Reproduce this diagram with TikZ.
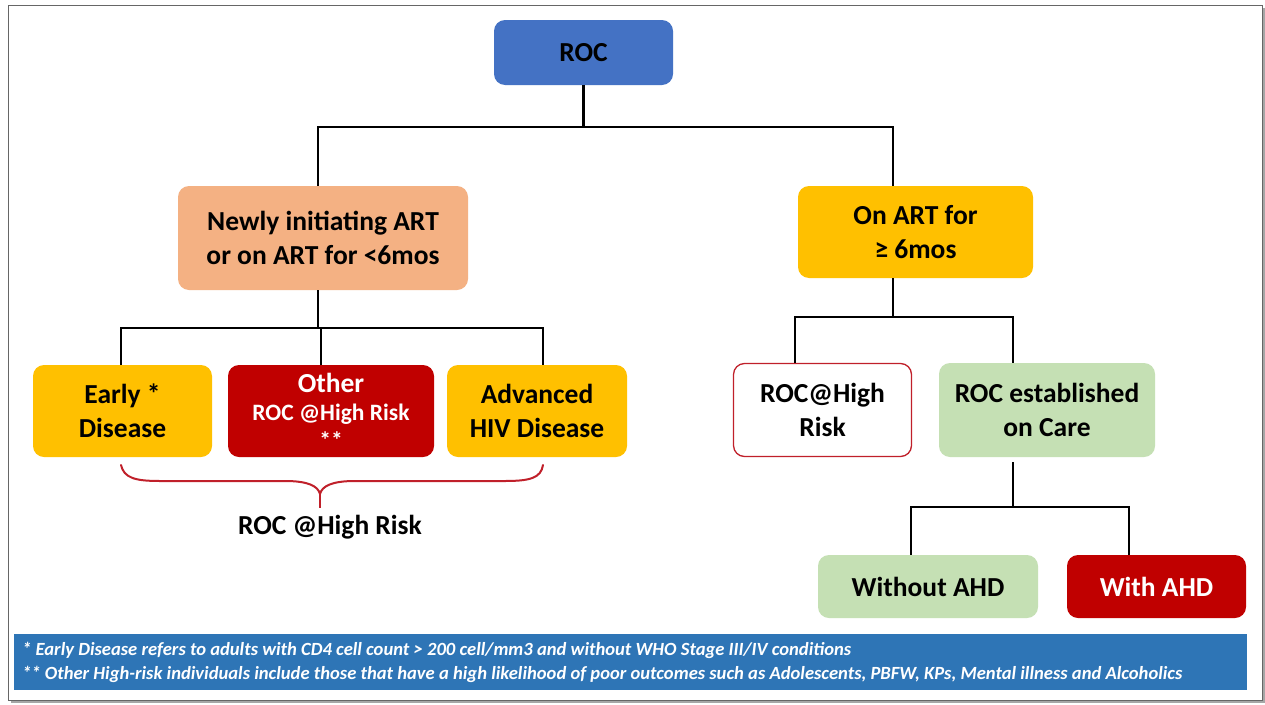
\documentclass[tikz,border=0pt]{standalone}
\usepackage{fontspec}
\setmainfont{Carlito}
\begin{document}
\definecolor{rocblue}{HTML}{4472C4}
\definecolor{noteblue}{HTML}{2E75B6}
\definecolor{peach}{HTML}{F4B183}
\definecolor{gold}{HTML}{FFC000}
\definecolor{darkred}{HTML}{C00000}
\definecolor{lightgreen}{HTML}{C5E0B4}
\definecolor{bracered}{HTML}{C0202A}
\begin{tikzpicture}[x=1pt,y=-1pt,
  box/.style={rounded corners=11pt, draw=none, align=center, inner sep=0pt,
    font=\fontsize{27.5}{34}\selectfont\bfseries, text=black},
  link/.style={line width=2.8pt, black},
]
\useasboundingbox (0,0) rectangle (1265,704);
% page frame with a soft shadow
\fill[gray!70] (11,8) rectangle (1265,703);
\fill[white] (8,5) rectangle (1262,700);
\draw[gray!80!black, line width=1pt] (8,5) rectangle (1262,700);

% boxes
\node[box, fill=rocblue, minimum width=179pt, minimum height=65pt] (roc) at (583.5,52.5) {ROC};
\node[box, fill=peach, minimum width=290pt, minimum height=104pt] (new) at (323,238) {Newly initiating ART\\or on ART for <6mos};
\node[box, fill=gold, minimum width=235pt, minimum height=92pt] (on) at (915.5,232) {On ART for\\≥ 6mos};

\node[box, fill=gold, minimum width=179pt, minimum height=92pt] (early) at (122.5,411) {Early *\\Disease};
\node[box, fill=darkred, text=white, minimum width=206pt, minimum height=92pt] (other) at (331,411)
  {Other\\[-6pt]{\fontsize{23.5}{27}\selectfont ROC @High Risk}\\[-6pt]{\fontsize{23.5}{27}\selectfont **}};
\node[box, fill=gold, minimum width=180pt, minimum height=92pt] (adv) at (537,411) {Advanced\\HIV Disease};

\node[box, fill=white, draw=bracered, line width=1.3pt, minimum width=178pt, minimum height=93pt] (hr) at (822.5,410) {ROC@High\\Risk};
\node[box, fill=lightgreen, minimum width=216pt, minimum height=94pt] (est) at (1047,410) {ROC established\\on Care};

\node[box, fill=lightgreen, minimum width=220pt, minimum height=63pt] (without) at (928,586.5) {Without AHD};
\node[box, fill=darkred, text=white, minimum width=179pt, minimum height=63pt] (with) at (1156.5,586.5) {With AHD};

% connectors
\coordinate (j1) at (583.5,127);
\draw[link] (roc.south) -- (j1);
\draw[link] (j1) -| (318,186 |- new.north);
\draw[link] (j1) -| (893,186 |- on.north);

\coordinate (j2) at (318,328);
\draw[link] (318,290 |- new.south) -- (j2);
\draw[link] (121,365 |- early.north) |- (543,328) -- (543,365 |- adv.north);
\draw[link] (321,328) -- (321,365 |- other.north);

\coordinate (j3) at (893,317);
\draw[link] (893,278 |- on.south) -- (j3);
\draw[link] (795,363 |- hr.north) |- (1013,317) -- (1013,363 |- est.north);

\coordinate (j4) at (1013,507);
\draw[link] (1013,462) -- (j4);
\draw[link] (911,555 |- without.north) |- (1129,507) -- (1129,555 |- with.north);

% brace spanning the three left-hand groups
\draw[bracered, line width=2pt, line cap=round]
  (121,465) .. controls (124,478) and (135,481) .. (160,481)
  -- (285,481) .. controls (308,481) and (318,486) .. (320,494)
  .. controls (322,486) and (332,481) .. (355,481)
  -- (505,481) .. controls (530,481) and (541,478) .. (543,465);
\draw[bracered, line width=2pt] (320,493) -- (320,508);
\node[font=\fontsize{27.5}{34}\selectfont\bfseries] (brlabel) at (330,527) {ROC @High Risk};

% footnote band
\node[fill=noteblue, minimum width=1233pt, minimum height=56pt, inner sep=0pt] (notes) at (630.5,662) {};
\node[anchor=west, align=left, text=white, inner sep=0pt,
  font=\fontsize{18.6}{24}\selectfont\bfseries\itshape] (notetext) at (22,662)
  {* Early Disease refers to adults with CD4 cell count > 200 cell/mm3 and without WHO Stage III/IV conditions\\
   ** Other High-risk individuals include those that have a high likelihood of poor outcomes such as Adolescents, PBFW, KPs, Mental illness and Alcoholics};
\end{tikzpicture}
\end{document}
